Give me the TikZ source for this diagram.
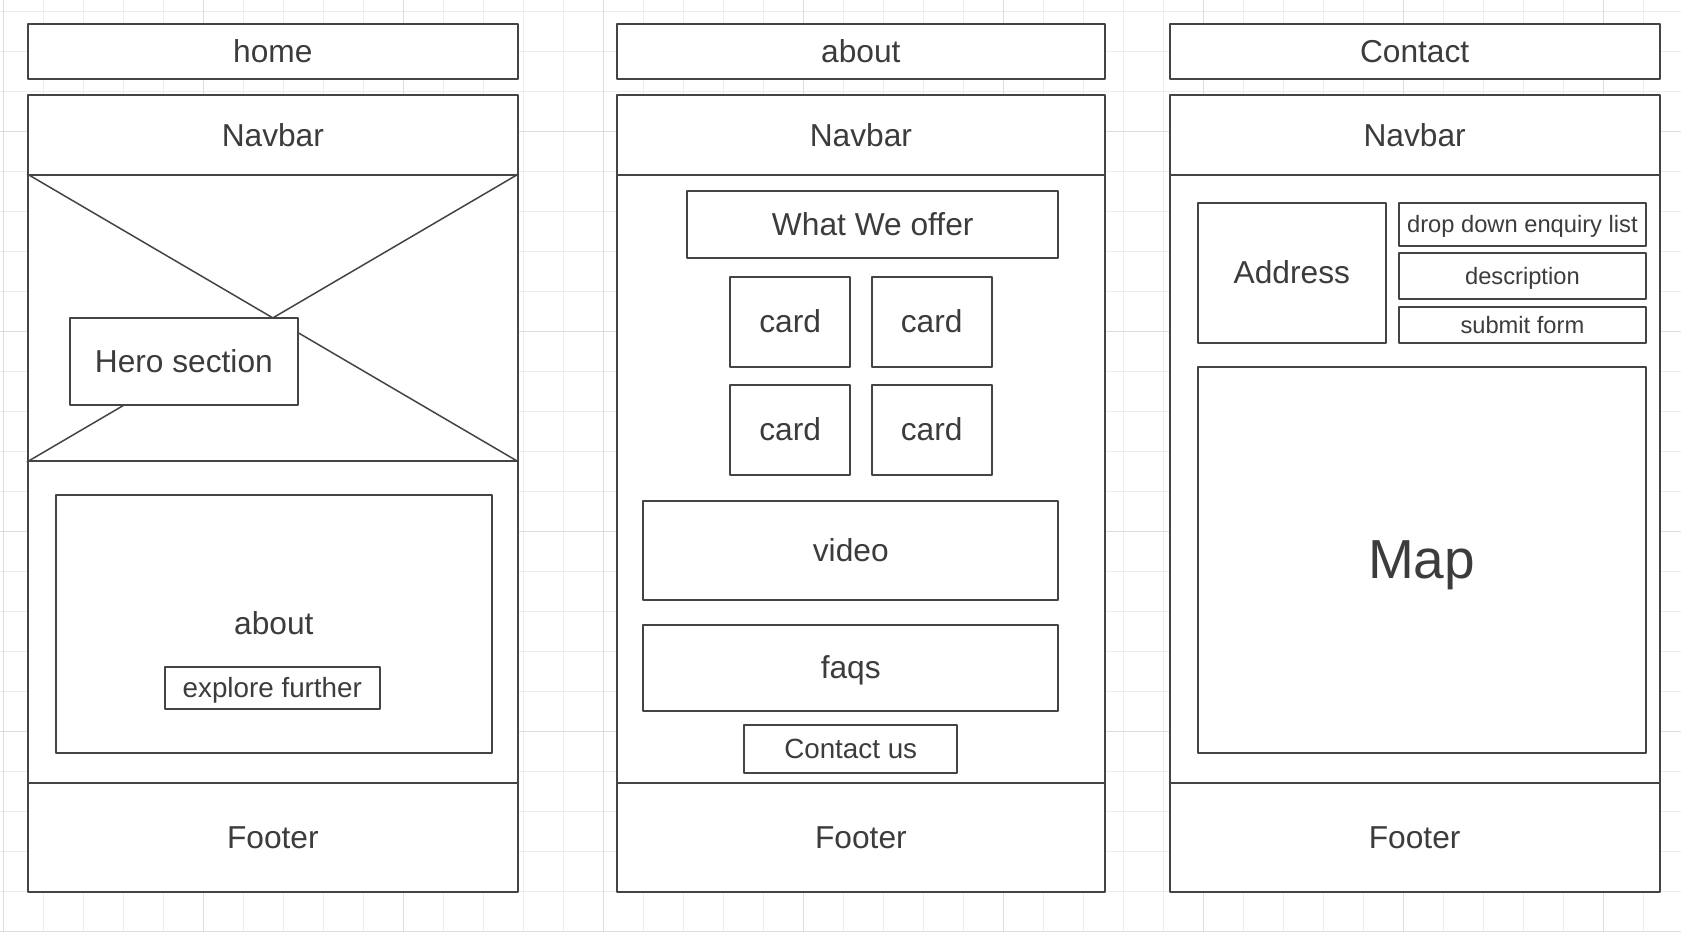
\documentclass[tikz,border=0pt]{standalone}
\usepackage{fontspec}
\setmainfont{Liberation Sans}

\definecolor{wline}{HTML}{444444}
\definecolor{wtext}{HTML}{3C3C3C}
\definecolor{gridlo}{HTML}{EDEDED}
\definecolor{gridhi}{HTML}{DDDDDD}

\tikzset{
  tbig/.style={font=\fontsize{31.7}{36}\selectfont,text height=28.7pt,text depth=6.7pt},
  tmid/.style={font=\fontsize{27.8}{32}\selectfont,text height=25.2pt,text depth=5.9pt},
  tsmall/.style={font=\fontsize{23.7}{28}\selectfont,text height=21.4pt,text depth=5pt},
  tmap/.style={font=\fontsize{55}{62}\selectfont,text height=49.8pt,text depth=11.7pt},
  wbox/.style={draw=wline,line width=2pt,fill=white,inner sep=0pt,text=wtext,tbig},
  boxat/.style n args={4}{at={({(#1+#3)/2},{(#2+#4)/2})},minimum width={#3-#1},minimum height={#4-#2}},
  gridminor/.style={draw=gridlo,line width=1pt},
  gridmajor/.style={draw=gridhi,line width=1.5pt},
}

\begin{document}
\begin{tikzpicture}[x=1pt,y=-1pt,join=round]
    \useasboundingbox[fill=white](0,0)rectangle(1681,932);
    % background grid
    \foreach \i in {0,...,42}\draw[gridminor](3.6+40*\i,0)--(3.6+40*\i,932);
    \foreach \j in {0,...,23}\draw[gridminor](0,11.7+40*\j)--(1681,11.7+40*\j);
    \foreach \i in {0,...,8}\draw[gridmajor](3.6+200*\i,0)--(3.6+200*\i,932);
    \foreach \j in {0,...,4}\draw[gridmajor](0,131.7+200*\j)--(1681,131.7+200*\j);
    % three screens
    \foreach \s/\l/\r/\t in {home/27.9/517.8/home,about/616.5/1105.3/about,contact/1169.7/1659.6/Contact}{
      \node[wbox,boxat={\l}{23.6}{\r}{79.3}](\s-title){\t};
      \node[wbox,boxat={\l}{95.4}{\r}{174.8}](\s-nav){Navbar};
      \node[wbox,boxat={\l}{174.8}{\r}{782.6}](\s-body){};
      \node[wbox,boxat={\l}{782.6}{\r}{892}](\s-foot){Footer};
    }
    % home
    \node[wbox,boxat={27.9}{174.8}{517.8}{461}](hero-img){};
    \draw[wline,line width=1.5pt](hero-img.north west)--(hero-img.south east)(hero-img.north east)--(hero-img.south west);
    \node[wbox,boxat={69.7}{318.4}{298}{405.3}](hero){Hero section};
    \node[wbox,boxat={55.7}{495.3}{492.1}{752.6}](home-about){about};
    \node[wbox,tmid,boxat={165.1}{666.8}{379.5}{708.7}](explore){explore further};
    % about
    \node[wbox,boxat={687.2}{190.8}{1058.2}{258.4}](offer){What We offer};
    \foreach \n/\x/\y in {1/730.1/276.6,2/871.6/276.6,3/730.1/384.9,4/871.6/384.9}
      \node[wbox,boxat={\x}{\y}{\x+120.1}{\y+90.1}](card\n){card};
    \node[wbox,boxat={643.3}{500.7}{1058.2}{600.4}](video){video};
    \node[wbox,boxat={643.3}{625}{1058.2}{710.8}](faqs){faqs};
    \node[wbox,tmid,boxat={744}{724.7}{957.4}{773}](contact-us){Contact us};
    % contact
    \node[wbox,boxat={1197.5}{202.6}{1386.2}{343.1}](address){Address};
    \node[wbox,tsmall,boxat={1399.1}{202.6}{1645.7}{245.5}](enquiry){drop down enquiry list};
    \node[wbox,tsmall,boxat={1399.1}{253}{1645.7}{299.1}](descr){description};
    \node[wbox,tsmall,boxat={1399.1}{306.6}{1645.7}{343.1}](submit){submit form};
    \node[wbox,tmap,boxat={1197.5}{366.7}{1645.7}{752.6}](map){Map};
\end{tikzpicture}
\end{document}
